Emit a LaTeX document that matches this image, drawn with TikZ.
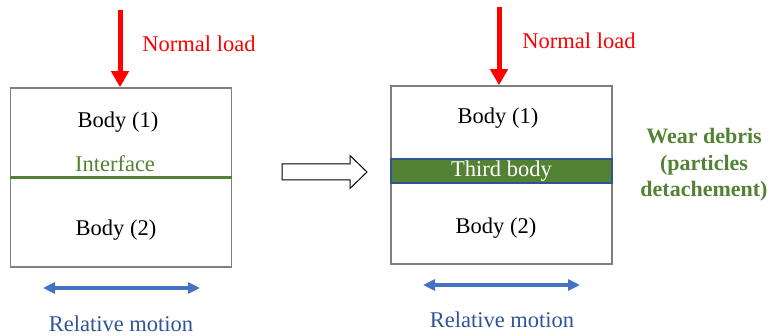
\documentclass[tikz,border=0pt]{standalone}
\usepackage{fontspec}
\setmainfont{Liberation Serif}
\usepackage{xcolor}
\usetikzlibrary{arrows.meta,positioning,calc}
\definecolor{loadred}{HTML}{FF0000}
\definecolor{ifgreen}{HTML}{548235}
\definecolor{motblue}{HTML}{4472C4}
\definecolor{txtblue}{HTML}{2F5597}
\definecolor{boxgray}{HTML}{7F7F7F}

\begin{document}
\begin{tikzpicture}[
    x=1pt, y=-1pt,
    lbl/.style={font=\fontsize{22.5}{26}\selectfont, inner sep=0pt},
    body/.style={rectangle, draw=boxgray, line width=1.5pt, minimum width=221pt, minimum height=179pt},
    third/.style={rectangle, draw=txtblue, fill=ifgreen, line width=2pt, minimum width=221pt, minimum height=24pt, text=white, font=\fontsize{22.5}{26}\selectfont, inner sep=0pt},
    load/.style={-{Triangle[width=17pt,length=16pt]}, line width=5pt, draw=loadred},
    motion/.style={{Triangle[width=11pt,length=12pt]}-{Triangle[width=11pt,length=12pt]}, line width=3.5pt, draw=motblue}
]
\useasboundingbox (0,0) rectangle (771,336);

% Bodies
\node[body] (boxL) at (121,177.5) {};
\node[body, minimum height=178pt] (boxR) at (501.5,175) {};
\node[third] (third) at (501.5,171) {Third body};

% Interface
\draw[ifgreen, line width=2.5pt] (boxL.west) -- (boxL.east);

% Labels
\node[lbl] (b1L) at (118,122) {Body (1)};
\node[lbl, text=ifgreen] (ifc) at (115,164) {Interface};
\node[lbl] (b2L) at (116,230) {Body (2)};
\node[lbl] (b1R) at (498,118) {Body (1)};
\node[lbl] (b2R) at (496,228) {Body (2)};
\node[lbl, text=loadred] (nlL) at (199,44) {Normal load};
\node[lbl, text=loadred] (nlR) at (579,41) {Normal load};
\node[lbl, text=txtblue] (rmL) at (121,324) {Relative motion};
\node[lbl, text=txtblue] (rmR) at (502,320) {Relative motion};
\node[lbl, text=ifgreen, font=\fontsize{22}{26.5}\selectfont\bfseries, align=center] (wear) at (704,165) {Wear debris\\(particles\\detachement)};

% Loads
\coordinate (loadL) at (120,10);
\coordinate (loadR) at (499,7);
\draw[load] (loadL) -- (loadL |- boxL.north);
\draw[load] (loadR) -- (loadR |- boxR.north);

% Motions
\coordinate (mL1) at (43,288);
\coordinate (mL2) at (200,288);
\coordinate (mR1) at (423,285);
\coordinate (mR2) at (580,285);
\draw[motion] (mL1) -- (mL2);
\draw[motion] (mR1) -- (mR2);

% Transition arrow
\draw[black, line width=1pt, fill=white] (282,164) -- (350,164) -- (350,155.5) -- (367,172) -- (350,188.5) -- (350,180) -- (282,180) -- cycle;

\end{tikzpicture}
\end{document}
